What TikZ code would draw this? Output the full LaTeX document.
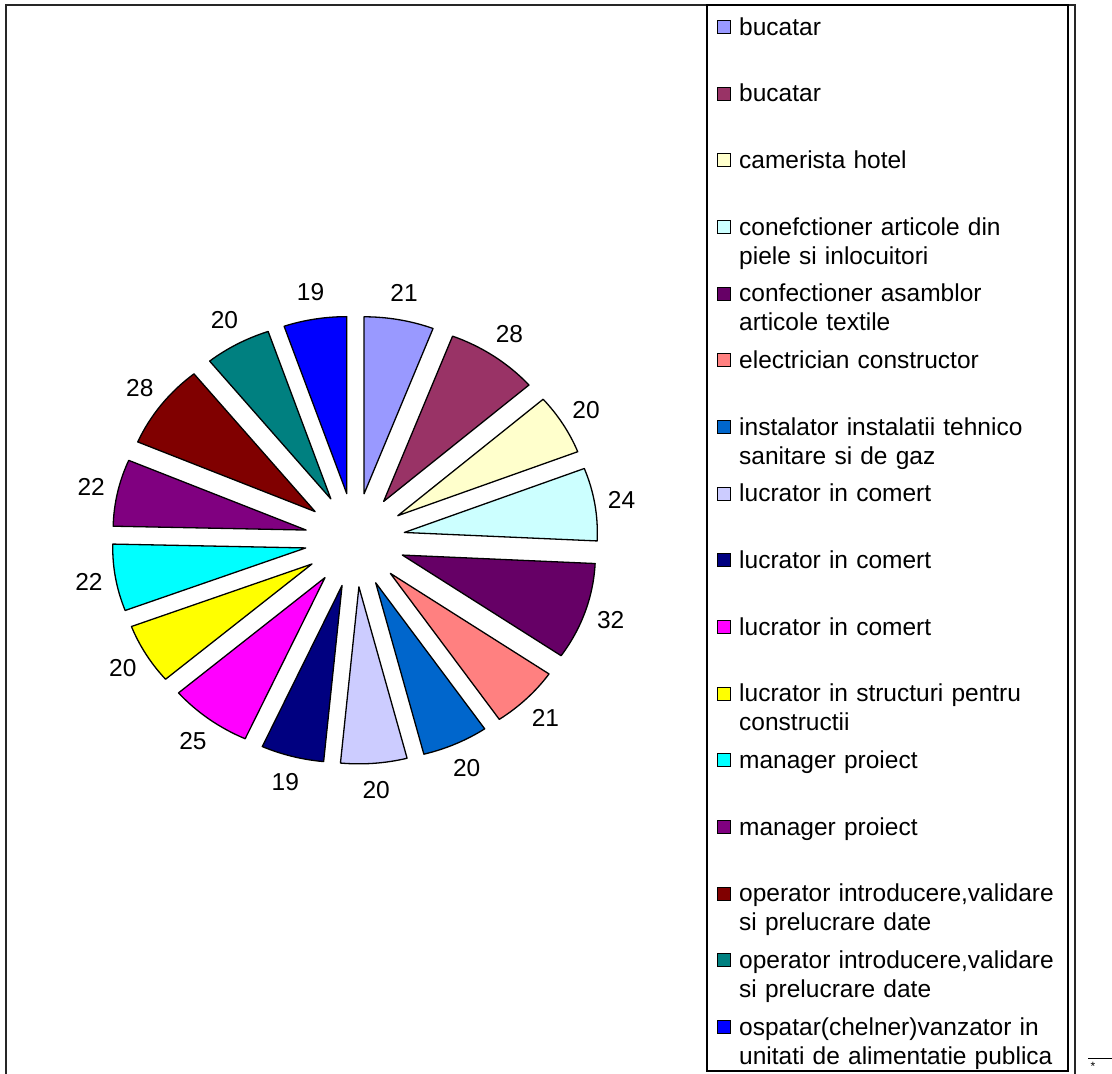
\documentclass[tikz,border=0pt]{standalone}
\usepackage{fontspec}
\setmainfont{Liberation Sans}
\definecolor{periwinkle}{HTML}{9999FF}
\definecolor{plum}{HTML}{993366}
\definecolor{cream}{HTML}{FFFFCC}
\definecolor{ice}{HTML}{CCFFFF}
\definecolor{grape}{HTML}{660066}
\definecolor{salmon}{HTML}{FF8080}
\definecolor{ocean}{HTML}{0066CC}
\definecolor{lilac}{HTML}{CCCCFF}
\definecolor{navy}{HTML}{000080}
\definecolor{fuchsia}{HTML}{FF00FF}
\definecolor{lemon}{HTML}{FFFF00}
\definecolor{aqua}{HTML}{00FFFF}
\definecolor{violet}{HTML}{800080}
\definecolor{maroon}{HTML}{800000}
\definecolor{sea}{HTML}{008080}
\definecolor{royal}{HTML}{0000FF}

\begin{document}
\begin{tikzpicture}[x=1pt, y=-1pt,
  slice/.style={draw=black, line width=1.3pt, line join=round},
  val/.style={font=\fontsize{24.5}{29}\selectfont, inner sep=0pt},
  key/.style={draw=black, line width=1.2pt, inner sep=0pt, minimum size=13pt},
  item/.style={font=\fontsize{24.5}{29}\selectfont, inner sep=0pt, anchor=base west, text width=340pt, align=left}]
\useasboundingbox (0,0) rectangle (1112,1074);

% frames
\draw[line width=1.8pt, draw=black!85] (6,5) rectangle (1075,1090);
\draw[line width=1.6pt] (707,5) rectangle (1068,1071);

% pie
\coordinate (C) at (355,540);
\draw[slice, fill=periwinkle] ([shift={(-79.53:50 and 47)}]C) -- ++(-90:193 and 177) arc[start angle=-90, end angle=-69.06, x radius=193, y radius=177] -- cycle;
\draw[slice, fill=plum] ([shift={(-55.10:50 and 47)}]C) -- ++(-69.06:193 and 177) arc[start angle=-69.06, end angle=-41.14, x radius=193, y radius=177] -- cycle;
\draw[slice, fill=cream] ([shift={(-31.16:50 and 47)}]C) -- ++(-41.14:193 and 177) arc[start angle=-41.14, end angle=-21.19, x radius=193, y radius=177] -- cycle;
\draw[slice, fill=ice] ([shift={(-9.22:50 and 47)}]C) -- ++(-21.19:193 and 177) arc[start angle=-21.19, end angle=2.74, x radius=193, y radius=177] -- cycle;
\draw[slice, fill=grape] ([shift={(18.70:50 and 47)}]C) -- ++(2.74:193 and 177) arc[start angle=2.74, end angle=34.65, x radius=193, y radius=177] -- cycle;
\draw[slice, fill=salmon] ([shift={(45.13:50 and 47)}]C) -- ++(34.65:193 and 177) arc[start angle=34.65, end angle=55.60, x radius=193, y radius=177] -- cycle;
\draw[slice, fill=ocean] ([shift={(65.57:50 and 47)}]C) -- ++(55.60:193 and 177) arc[start angle=55.60, end angle=75.54, x radius=193, y radius=177] -- cycle;
\draw[slice, fill=lilac] ([shift={(85.51:50 and 47)}]C) -- ++(75.54:193 and 177) arc[start angle=75.54, end angle=95.49, x radius=193, y radius=177] -- cycle;
\draw[slice, fill=navy] ([shift={(104.96:50 and 47)}]C) -- ++(95.49:193 and 177) arc[start angle=95.49, end angle=114.43, x radius=193, y radius=177] -- cycle;
\draw[slice, fill=fuchsia] ([shift={(126.90:50 and 47)}]C) -- ++(114.43:193 and 177) arc[start angle=114.43, end angle=139.36, x radius=193, y radius=177] -- cycle;
\draw[slice, fill=lemon] ([shift={(149.34:50 and 47)}]C) -- ++(139.36:193 and 177) arc[start angle=139.36, end angle=159.31, x radius=193, y radius=177] -- cycle;
\draw[slice, fill=aqua] ([shift={(170.28:50 and 47)}]C) -- ++(159.31:193 and 177) arc[start angle=159.31, end angle=181.25, x radius=193, y radius=177] -- cycle;
\draw[slice, fill=violet] ([shift={(192.22:50 and 47)}]C) -- ++(181.25:193 and 177) arc[start angle=181.25, end angle=203.19, x radius=193, y radius=177] -- cycle;
\draw[slice, fill=maroon] ([shift={(217.15:50 and 47)}]C) -- ++(203.19:193 and 177) arc[start angle=203.19, end angle=231.11, x radius=193, y radius=177] -- cycle;
\draw[slice, fill=sea] ([shift={(241.08:50 and 47)}]C) -- ++(231.11:193 and 177) arc[start angle=231.11, end angle=251.05, x radius=193, y radius=177] -- cycle;
\draw[slice, fill=royal] ([shift={(260.53:50 and 47)}]C) -- ++(251.05:193 and 177) arc[start angle=251.05, end angle=270, x radius=193, y radius=177] -- cycle;

% values
\node[val] (v1) at ([shift={(-79.53:270 and 251)}]C) {21};
\node[val] (v2) at ([shift={(-55.10:270 and 251)}]C) {28};
\node[val] (v3) at ([shift={(-31.16:270 and 251)}]C) {20};
\node[val] (v4) at ([shift={(-9.22:270 and 251)}]C) {24};
\node[val] (v5) at ([shift={(18.70:270 and 251)}]C) {32};
\node[val] (v6) at ([shift={(45.13:270 and 251)}]C) {21};
\node[val] (v7) at ([shift={(65.57:270 and 251)}]C) {20};
\node[val] (v8) at ([shift={(85.51:270 and 251)}]C) {20};
\node[val] (v9) at ([shift={(104.96:270 and 251)}]C) {19};
\node[val] (v10) at ([shift={(126.90:270 and 251)}]C) {25};
\node[val] (v11) at ([shift={(149.34:270 and 251)}]C) {20};
\node[val] (v12) at ([shift={(170.28:270 and 251)}]C) {22};
\node[val] (v13) at ([shift={(192.22:270 and 251)}]C) {22};
\node[val] (v14) at ([shift={(217.15:270 and 251)}]C) {28};
\node[val] (v15) at ([shift={(241.08:270 and 251)}]C) {20};
\node[val] (v16) at ([shift={(260.53:270 and 251)}]C) {19};

% legend
\node[key, fill=periwinkle] (k1) at (724,27) {};
\node[item] (t1) at (739,35) {bucatar};
\node[key, fill=plum] (k2) at (724,93.7) {};
\node[item] (t2) at (739,101.7) {bucatar};
\node[key, fill=cream] (k3) at (724,160.3) {};
\node[item] (t3) at (739,168.3) {camerista hotel};
\node[key, fill=ice] (k4) at (724,227) {};
\node[item] (t4) at (739,235) {conefctioner articole din\\piele si inlocuitori};
\node[key, fill=grape] (k5) at (724,293.7) {};
\node[item] (t5) at (739,301.7) {confectioner asamblor\\articole textile};
\node[key, fill=salmon] (k6) at (724,360.3) {};
\node[item] (t6) at (739,368.3) {electrician constructor};
\node[key, fill=ocean] (k7) at (724,427) {};
\node[item] (t7) at (739,435) {instalator instalatii tehnico\\sanitare si de gaz};
\node[key, fill=lilac] (k8) at (724,493.7) {};
\node[item] (t8) at (739,501.7) {lucrator in comert};
\node[key, fill=navy] (k9) at (724,560.3) {};
\node[item] (t9) at (739,568.3) {lucrator in comert};
\node[key, fill=fuchsia] (k10) at (724,627) {};
\node[item] (t10) at (739,635) {lucrator in comert};
\node[key, fill=lemon] (k11) at (724,693.7) {};
\node[item] (t11) at (739,701.7) {lucrator in structuri pentru\\constructii};
\node[key, fill=aqua] (k12) at (724,760.3) {};
\node[item] (t12) at (739,768.3) {manager proiect};
\node[key, fill=violet] (k13) at (724,827) {};
\node[item] (t13) at (739,835) {manager proiect};
\node[key, fill=maroon] (k14) at (724,893.7) {};
\node[item] (t14) at (739,901.7) {operator introducere,validare\\si prelucrare date};
\node[key, fill=sea] (k15) at (724,960.3) {};
\node[item] (t15) at (739,968.3) {operator introducere,validare\\si prelucrare date};
\node[key, fill=royal] (k16) at (724,1027) {};
\node[item] (t16) at (739,1035) {ospatar(chelner)vanzator in\\unitati de alimentatie publica};

% footnote mark
\draw[line width=1pt] (1088,1058) -- (1112,1058);
\node[font=\fontsize{12}{12}\selectfont, inner sep=0pt] (mark) at (1093,1066) {*};
\end{tikzpicture}
\end{document}
